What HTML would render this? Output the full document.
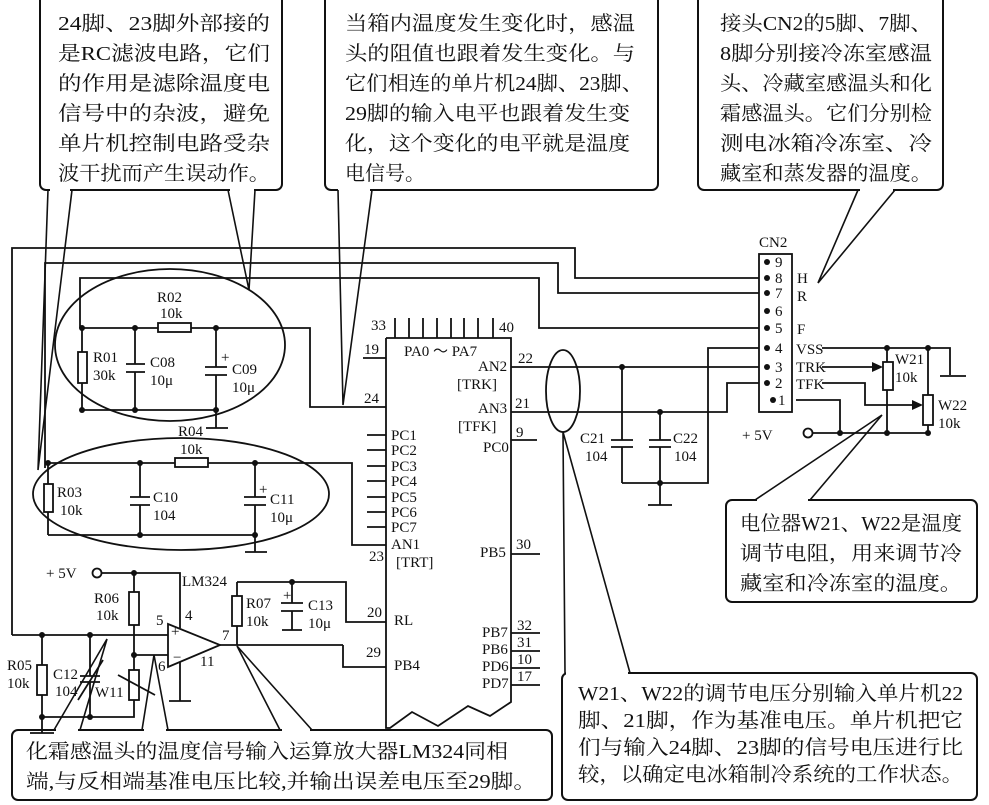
<!DOCTYPE html>
<html><head><meta charset="utf-8"><style>
html,body{margin:0;padding:0;background:#fff}
svg{display:block}
.l{font-family:"Liberation Serif",serif;font-size:15px;fill:#111}
.c{font-family:"Liberation Serif","Noto Serif CJK SC",serif;font-size:20px;fill:#111}
</style></head><body>
<svg width="989" height="805" viewBox="0 0 989 805" xmlns="http://www.w3.org/2000/svg">
<g fill="none" stroke="#111" stroke-width="2">
<rect x="40" y="-6" width="242" height="196" rx="6"/>
<rect x="325" y="-6" width="333" height="196" rx="6"/>
<rect x="698" y="-6" width="245" height="196" rx="6"/>
<rect x="726" y="500" width="251" height="102" rx="6"/>
<rect x="562" y="673" width="415" height="127" rx="6"/>
<rect x="12" y="730" width="540" height="70" rx="6"/>
</g>
<g stroke="#fff" stroke-width="3">
<line x1="50" y1="190" x2="70" y2="190"/><line x1="230" y1="190" x2="254" y2="190"/>
<line x1="338" y1="190" x2="370" y2="190"/><line x1="860" y1="190" x2="893" y2="190"/>
<line x1="757" y1="500" x2="808" y2="500"/><line x1="566" y1="673" x2="628" y2="673"/>
<line x1="56" y1="730" x2="78" y2="730"/><line x1="144" y1="730" x2="166" y2="730"/>
<line x1="282" y1="730" x2="310" y2="730"/>
</g>
<g fill="none" stroke="#111" stroke-width="1.6">
<polyline points="48,190 38,470 72,190"/>
<polyline points="228,190 249,290 255,190"/>
<polyline points="338,190 343,405 372,190"/>
<polyline points="858,190 818,283 895,190"/>
<polyline points="755,500 882,415 810,500"/>
<polyline points="565,673 563,432 630,673"/>
<polyline points="54,730 107,639 80,730"/>
<polyline points="142,730 154,655 168,730"/>
<polyline points="280,730 237,646 312,730"/>
</g>
<g fill="none" stroke="#111" stroke-width="1.8">
<polyline points="12,635 12,248 575,248 575,278 759,278"/>
<polyline points="45,468 45,263 558,263 558,293 759,293"/>
<polyline points="80,328 80,278 539,278 539,328 759,328"/>
<polyline points="82,328 158,328"/><polyline points="191,328 310,328 310,407 386,407"/>
<line x1="82" y1="328" x2="82" y2="352"/><rect x="78" y="352" width="9" height="31"/><line x1="82" y1="383" x2="82" y2="410"/>
<line x1="135" y1="328" x2="135" y2="364"/><line x1="126" y1="364" x2="145" y2="364"/><line x1="126" y1="372" x2="145" y2="372"/><line x1="135" y1="372" x2="135" y2="410"/>
<line x1="216" y1="328" x2="216" y2="367"/><line x1="205" y1="367" x2="227" y2="367"/><line x1="205" y1="375" x2="227" y2="375"/><line x1="216" y1="375" x2="216" y2="428"/>
<line x1="82" y1="410" x2="216" y2="410"/><line x1="206" y1="428" x2="228" y2="428"/>
<rect x="158" y="323" width="33" height="9"/>
<ellipse cx="170" cy="345" rx="115" ry="76"/>
<polyline points="45,463 175,463"/><polyline points="208,463 352,463 352,545 386,545"/>
<line x1="48" y1="463" x2="48" y2="484"/><rect x="44" y="484" width="9" height="28"/><line x1="48" y1="512" x2="48" y2="535"/>
<line x1="140" y1="463" x2="140" y2="497"/><line x1="130" y1="497" x2="150" y2="497"/><line x1="130" y1="505" x2="150" y2="505"/><line x1="140" y1="505" x2="140" y2="535"/>
<line x1="255" y1="463" x2="255" y2="497"/><line x1="244" y1="497" x2="266" y2="497"/><line x1="244" y1="505" x2="266" y2="505"/><line x1="255" y1="505" x2="255" y2="552"/>
<line x1="48" y1="535" x2="255" y2="535"/><line x1="245" y1="552" x2="267" y2="552"/>
<rect x="175" y="458" width="33" height="9"/>
<ellipse cx="181" cy="494" rx="148" ry="56"/>
<polyline points="386,338 511,338 511,702 490,716 468,706 438,726 412,712 390,728 386,728 386,338"/>
<line x1="395" y1="318" x2="395" y2="338"/><line x1="409" y1="318" x2="409" y2="338"/><line x1="423" y1="318" x2="423" y2="338"/><line x1="437" y1="318" x2="437" y2="338"/><line x1="451" y1="318" x2="451" y2="338"/><line x1="464" y1="318" x2="464" y2="338"/><line x1="478" y1="318" x2="478" y2="338"/><line x1="493" y1="318" x2="493" y2="338"/>
<line x1="363" y1="358" x2="386" y2="358"/>
<line x1="367" y1="435" x2="386" y2="435"/><line x1="367" y1="450" x2="386" y2="450"/><line x1="367" y1="466" x2="386" y2="466"/><line x1="367" y1="481" x2="386" y2="481"/><line x1="367" y1="497" x2="386" y2="497"/><line x1="367" y1="512" x2="386" y2="512"/><line x1="367" y1="527" x2="386" y2="527"/>
<line x1="511" y1="367" x2="759" y2="367"/>
<polyline points="511,412 727,412 727,383 759,383"/>
<line x1="511" y1="440" x2="537" y2="440"/>
<line x1="511" y1="554" x2="540" y2="554"/>
<line x1="511" y1="633" x2="540" y2="633"/><line x1="511" y1="651" x2="540" y2="651"/><line x1="511" y1="668" x2="540" y2="668"/><line x1="511" y1="685" x2="540" y2="685"/>
<polyline points="237,582 346,582 346,622 386,622"/>
<polyline points="220,645 237,645"/>
<polyline points="343,645 343,667 386,667"/>
<line x1="622" y1="367" x2="622" y2="440"/><line x1="611" y1="440" x2="633" y2="440"/><line x1="611" y1="447" x2="633" y2="447"/><line x1="622" y1="447" x2="622" y2="483"/>
<line x1="660" y1="412" x2="660" y2="440"/><line x1="649" y1="440" x2="671" y2="440"/><line x1="649" y1="447" x2="671" y2="447"/><line x1="660" y1="447" x2="660" y2="505"/>
<polyline points="622,483 708,483 708,348 759,348"/>
<line x1="648" y1="505" x2="672" y2="505"/>
<ellipse cx="563" cy="391" rx="17" ry="41"/>
<rect x="759" y="254" width="33" height="158"/>
<polyline points="822,348 950,348 950,375"/><line x1="940" y1="376" x2="966" y2="376"/>
<line x1="887" y1="348" x2="887" y2="362"/><rect x="883" y="362" width="10" height="28"/><line x1="887" y1="390" x2="887" y2="433"/>
<line x1="928" y1="348" x2="928" y2="395"/><rect x="923" y="395" width="10" height="30"/><line x1="928" y1="425" x2="928" y2="433"/>
<line x1="822" y1="367" x2="878" y2="367"/>
<polyline points="822,383 865,383 865,405 918,405"/>
<polyline points="796,400 840,400 840,433"/>
<line x1="813" y1="433" x2="928" y2="433"/>
<circle cx="808" cy="433" r="4.5"/>
<line x1="12" y1="635" x2="168" y2="635"/>
<polyline points="102,573 180,573 180,628"/>
<circle cx="97" cy="573" r="4.5"/>
<line x1="134" y1="573" x2="134" y2="592"/><rect x="129" y="592" width="10" height="33"/><line x1="134" y1="625" x2="134" y2="670"/>
<line x1="134" y1="655" x2="168" y2="655"/>
<rect x="129" y="670" width="10" height="30"/><polyline points="134,700 134,717 42,717"/>
<line x1="42" y1="635" x2="42" y2="665"/><rect x="37" y="665" width="10" height="30"/><line x1="42" y1="695" x2="42" y2="733"/><line x1="30" y1="733" x2="54" y2="733"/>
<line x1="90" y1="635" x2="90" y2="676"/><line x1="80" y1="676" x2="100" y2="676"/><line x1="80" y1="682" x2="100" y2="682"/><line x1="90" y1="682" x2="90" y2="717"/>
<line x1="78" y1="700" x2="103" y2="660"/>
<line x1="118" y1="675" x2="155" y2="695"/>
<polygon points="168,624 168,667 220,645"/>
<line x1="180" y1="662" x2="180" y2="701"/><line x1="169" y1="701" x2="191" y2="701"/>
<line x1="237" y1="582" x2="237" y2="596"/><rect x="232" y="596" width="10" height="30"/><line x1="237" y1="626" x2="237" y2="645"/>
<polyline points="237,645 343,645"/>
<line x1="292" y1="582" x2="292" y2="603"/><line x1="281" y1="603" x2="303" y2="603"/><line x1="281" y1="611" x2="303" y2="611"/><line x1="292" y1="611" x2="292" y2="630"/><line x1="282" y1="630" x2="302" y2="630"/>
</g>
<g fill="#111">
<polygon points="883,367 872,362 872,372"/><polygon points="923,405 912,400 912,410"/>
<circle cx="82" cy="328" r="3"/><circle cx="135" cy="328" r="3"/><circle cx="216" cy="328" r="3"/><circle cx="82" cy="410" r="3"/><circle cx="135" cy="410" r="3"/><circle cx="216" cy="410" r="3"/>
<circle cx="48" cy="463" r="3"/><circle cx="140" cy="463" r="3"/><circle cx="255" cy="463" r="3"/><circle cx="140" cy="535" r="3"/><circle cx="255" cy="535" r="3"/>
<circle cx="622" cy="367" r="3"/><circle cx="660" cy="412" r="3"/><circle cx="660" cy="483" r="3"/>
<circle cx="887" cy="348" r="3"/><circle cx="928" cy="348" r="3"/><circle cx="840" cy="433" r="3"/><circle cx="887" cy="433" r="3"/><circle cx="928" cy="433" r="3"/>
<circle cx="42" cy="635" r="3"/><circle cx="90" cy="635" r="3"/><circle cx="42" cy="717" r="3"/><circle cx="90" cy="717" r="3"/><circle cx="134" cy="573" r="3"/><circle cx="134" cy="655" r="3"/><circle cx="292" cy="582" r="3"/>
<circle cx="767" cy="262" r="3"/><circle cx="767" cy="278" r="3"/><circle cx="767" cy="293" r="3"/><circle cx="767" cy="311" r="3"/><circle cx="767" cy="328" r="3"/><circle cx="767" cy="348" r="3"/><circle cx="767" cy="367" r="3"/><circle cx="767" cy="383" r="3"/><circle cx="773" cy="400" r="3"/>
</g>
<g class="l">
<text x="157" y="302">R02</text><text x="160" y="318">10k</text>
<text x="93" y="362">R01</text><text x="93" y="380">30k</text>
<text x="150" y="367">C08</text><text x="150" y="385">10μ</text>
<text x="232" y="374">C09</text><text x="232" y="392">10μ</text><text x="221" y="362">+</text>
<text x="178" y="436">R04</text><text x="180" y="454">10k</text>
<text x="57" y="497">R03</text><text x="60" y="515">10k</text>
<text x="153" y="502">C10</text><text x="153" y="520">104</text>
<text x="270" y="504">C11</text><text x="270" y="522">10μ</text><text x="259" y="494">+</text>
<text x="371" y="330">33</text><text x="499" y="332">40</text>
<text x="364" y="354">19</text><text x="404" y="356">PA0 ～ PA7</text>
<text x="478" y="371">AN2</text><text x="457" y="389">[TRK]</text>
<text x="478" y="413">AN3</text><text x="458" y="431">[TFK]</text>
<text x="483" y="452">PC0</text>
<text x="518" y="363">22</text><text x="515" y="408">21</text><text x="516" y="437">9</text>
<text x="364" y="403">24</text>
<text x="391" y="440">PC1</text><text x="391" y="455">PC2</text><text x="391" y="471">PC3</text><text x="391" y="486">PC4</text><text x="391" y="502">PC5</text><text x="391" y="517">PC6</text><text x="391" y="532">PC7</text>
<text x="391" y="549">AN1</text><text x="369" y="561">23</text><text x="396" y="567">[TRT]</text>
<text x="480" y="557">PB5</text><text x="516" y="549">30</text>
<text x="367" y="617">20</text><text x="394" y="625">RL</text>
<text x="366" y="657">29</text><text x="394" y="670">PB4</text>
<text x="482" y="637">PB7</text><text x="482" y="654">PB6</text><text x="482" y="671">PD6</text><text x="482" y="688">PD7</text>
<text x="517" y="630">32</text><text x="517" y="647">31</text><text x="517" y="664">10</text><text x="517" y="681">17</text>
<text x="580" y="443">C21</text><text x="585" y="461">104</text>
<text x="673" y="443">C22</text><text x="674" y="461">104</text>
<text x="759" y="247">CN2</text>
<text x="775" y="267">9</text><text x="775" y="283">8</text><text x="775" y="298">7</text><text x="775" y="316">6</text><text x="775" y="333">5</text><text x="775" y="353">4</text><text x="775" y="372">3</text><text x="775" y="388">2</text><text x="778" y="405">1</text>
<text x="797" y="283">H</text><text x="797" y="301">R</text><text x="797" y="334">F</text>
<text x="796" y="354">VSS</text><text x="796" y="372">TRK</text><text x="796" y="389">TFK</text>
<text x="895" y="364">W21</text><text x="895" y="382">10k</text>
<text x="938" y="410">W22</text><text x="938" y="428">10k</text>
<text x="742" y="440">+ 5V</text>
<text x="46" y="578">+ 5V</text><text x="182" y="586">LM324</text>
<text x="94" y="603">R06</text><text x="96" y="620">10k</text>
<text x="156" y="625">5</text><text x="185" y="620">4</text><text x="171" y="636">+</text><text x="173" y="662">−</text>
<text x="158" y="671">6</text><text x="200" y="666">11</text><text x="222" y="640">7</text>
<text x="246" y="608">R07</text><text x="246" y="626">10k</text>
<text x="308" y="610">C13</text><text x="308" y="628">10μ</text><text x="283" y="600">+</text>
<text x="7" y="670">R05</text><text x="7" y="688">10k</text>
<text x="53" y="679">C12</text><text x="55" y="696">104</text>
<text x="95" y="697">W11</text>
</g>
<g class="c">
<text x="58" y="30" textLength="212" lengthAdjust="spacingAndGlyphs">24脚、23脚外部接的</text>
<text x="58" y="60" textLength="212" lengthAdjust="spacingAndGlyphs">是RC滤波电路，它们</text>
<text x="58" y="90" textLength="212" lengthAdjust="spacingAndGlyphs">的作用是滤除温度电</text>
<text x="58" y="120" textLength="212" lengthAdjust="spacingAndGlyphs">信号中的杂波，避免</text>
<text x="58" y="150" textLength="212" lengthAdjust="spacingAndGlyphs">单片机控制电路受杂</text>
<text x="58" y="180" textLength="212" lengthAdjust="spacingAndGlyphs">波干扰而产生误动作。</text>
<text x="345" y="30" textLength="290" lengthAdjust="spacingAndGlyphs">当箱内温度发生变化时，感温</text>
<text x="345" y="60" textLength="290" lengthAdjust="spacingAndGlyphs">头的阻值也跟着发生变化。与</text>
<text x="345" y="90" textLength="298" lengthAdjust="spacingAndGlyphs">它们相连的单片机24脚、23脚、</text>
<text x="345" y="120" textLength="285" lengthAdjust="spacingAndGlyphs">29脚的输入电平也跟着发生变</text>
<text x="345" y="150" textLength="285" lengthAdjust="spacingAndGlyphs">化，这个变化的电平就是温度</text>
<text x="345" y="180">电信号。</text>
<text x="720" y="30" textLength="212" lengthAdjust="spacingAndGlyphs">接头CN2的5脚、7脚、</text>
<text x="720" y="60" textLength="212" lengthAdjust="spacingAndGlyphs">8脚分别接冷冻室感温</text>
<text x="720" y="90" textLength="212" lengthAdjust="spacingAndGlyphs">头、冷藏室感温头和化</text>
<text x="720" y="120" textLength="212" lengthAdjust="spacingAndGlyphs">霜感温头。它们分别检</text>
<text x="720" y="150" textLength="212" lengthAdjust="spacingAndGlyphs">测电冰箱冷冻室、冷</text>
<text x="720" y="180" textLength="212" lengthAdjust="spacingAndGlyphs">藏室和蒸发器的温度。</text>
<text x="740" y="530" textLength="222" lengthAdjust="spacingAndGlyphs">电位器W21、W22是温度</text>
<text x="740" y="560" textLength="222" lengthAdjust="spacingAndGlyphs">调节电阻，用来调节冷</text>
<text x="740" y="590" textLength="222" lengthAdjust="spacingAndGlyphs">藏室和冷冻室的温度。</text>
<text x="578" y="700" textLength="385" lengthAdjust="spacingAndGlyphs">W21、W22的调节电压分别输入单片机22</text>
<text x="578" y="727" textLength="385" lengthAdjust="spacingAndGlyphs">脚、21脚，作为基准电压。单片机把它</text>
<text x="578" y="754" textLength="385" lengthAdjust="spacingAndGlyphs">们与输入24脚、23脚的信号电压进行比</text>
<text x="578" y="781" textLength="385" lengthAdjust="spacingAndGlyphs">较，以确定电冰箱制冷系统的工作状态。</text>
<text x="26" y="758" textLength="482" lengthAdjust="spacingAndGlyphs">化霜感温头的温度信号输入运算放大器LM324同相</text>
<text x="26" y="788" textLength="510" lengthAdjust="spacingAndGlyphs">端,与反相端基准电压比较,并输出误差电压至29脚。</text>
</g>
</svg>
</body></html>
